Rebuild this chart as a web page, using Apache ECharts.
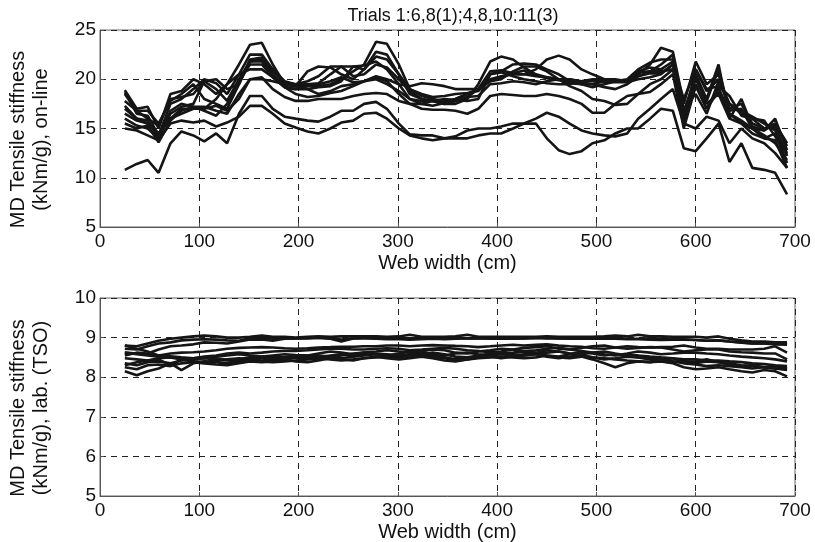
<!DOCTYPE html>
<html>
<head>
<meta charset="utf-8">
<script src="https://cdn.jsdelivr.net/npm/echarts@6/dist/echarts.min.js"></script>
<style>
  html, body { margin: 0; padding: 0; background: #fff; }
  #chart { width: 815px; height: 542px; }
</style>
</head>
<body>
<div id="chart"></div>
<script>
// web width positions (cm) of the measurement points
var webWidth = [25,37,48,59,71,82,94,105,117,128,140,151,163,174,186,197,209,220,232,243,255,266,278,289,301,312,324,335,347,358,370,381,393,404,416,427,439,450,462,473,485,496,508,519,531,542,554,565,577,588,600,611,623,634,646,657,669,680,692];

var xTicks = [0,100,200,300,400,500,600,700];
var topTicks = [5,10,15,20,25];
var bottomTicks = [5,6,7,8,9,10];

// on-line stiffness profiles, one per trial
var onlineT1 = [10.8,11.4,11.8,10.5,13.5,14.7,14.3,13.7,14.5,13.5,16.5,18.3,18.3,17.0,16.2,16.0,15.8,15.7,16.2,16.8,16.8,17.5,17.7,17.0,15.5,14.4,14.3,14.3,14.0,14.0,14.0,14.3,14.5,14.5,15.0,15.5,15.5,14.0,12.8,12.4,12.7,13.5,13.8,14.5,15.0,15.0,16.0,17.0,16.8,13.0,12.7,14.0,15.5,11.6,13.5,11.0,10.8,10.5,8.3];
var onlineT2 = [15.0,14.8,14.3,13.8,15.5,15.8,15.6,15.8,15.2,15.6,16.2,17.3,17.3,16.5,15.5,15.1,14.7,14.5,15.0,15.6,15.8,16.5,16.6,16.0,15.0,14.3,14.0,13.8,14.0,14.2,14.8,15.0,15.0,15.2,15.5,15.5,16.0,16.6,16.2,15.5,14.8,14.5,14.3,14.2,14.5,16.0,17.0,18.0,19.0,15.5,15.0,16.2,15.8,13.5,15.0,14.0,13.5,12.5,11.0];
var onlineT3 = [18.5,16.8,16.0,15.3,18.0,18.2,18.5,19.8,20.0,19.0,19.5,21.8,22.0,20.8,19.6,19.5,19.8,20.3,21.3,21.3,20.3,20.5,21.5,21.2,20.0,18.8,18.0,17.8,17.6,17.8,18.2,19.0,20.5,20.8,21.5,21.6,21.5,21.0,20.5,19.8,19.5,19.2,19.5,19.8,20.0,21.0,21.7,22.0,22.0,15.8,21.0,19.0,19.3,18.3,16.3,16.0,15.8,14.2,12.3];
var onlineT4 = [18.9,17.0,17.2,15.0,18.5,18.8,20.0,19.5,18.5,19.5,21.5,23.5,23.7,21.5,19.5,19.3,19.4,19.3,19.5,20.0,20.8,21.5,23.8,23.6,21.5,19.0,18.3,18.0,17.8,18.0,18.5,19.0,20.8,20.9,20.6,20.5,20.3,20.2,20.0,20.0,19.8,19.9,19.9,19.8,19.8,20.5,21.5,23.2,22.8,17.5,21.8,19.5,20.5,17.0,17.5,15.5,15.0,15.5,13.2];
var onlineT5 = [18.7,16.5,16.3,14.3,17.5,18.0,19.0,20.0,19.6,18.5,20.5,22.5,22.5,21.0,19.5,19.3,20.8,21.3,21.2,20.5,20.0,21.0,22.8,22.5,20.5,18.5,18.0,17.8,17.5,17.5,18.0,19.5,21.8,22.3,22.0,21.2,20.5,20.2,20.0,19.6,19.5,19.5,19.8,19.8,19.9,20.3,20.8,21.5,22.5,15.5,19.5,17.0,19.2,16.5,15.5,15.0,14.0,14.5,11.5];
var onlineT6 = [17.8,16.8,16.8,15.5,17.8,18.5,19.5,18.0,17.5,17.0,19.5,22.0,22.2,21.0,19.8,19.5,19.5,19.6,20.5,21.3,21.3,21.0,22.3,22.0,20.5,19.0,18.5,18.2,18.3,18.5,18.6,18.8,20.0,20.3,20.5,20.5,21.0,22.0,22.4,22.0,21.0,20.5,20.0,19.8,19.9,20.8,21.2,21.0,21.8,16.5,20.5,18.0,21.5,16.0,18.0,15.2,14.8,16.0,12.8];
var onlineT7 = [17.0,16.0,15.8,14.0,16.5,17.2,17.5,19.8,19.0,17.8,20.0,21.8,21.8,20.5,19.2,19.0,19.0,19.2,19.3,19.8,21.3,21.4,21.8,21.0,19.5,18.0,17.5,17.3,17.6,18.0,18.5,19.0,19.8,20.0,20.8,21.3,21.3,20.8,20.0,19.3,18.8,18.0,17.8,17.4,17.5,18.5,19.5,20.0,21.0,17.0,18.5,16.5,19.8,17.5,16.5,16.0,15.0,15.2,12.2];
var onlineT8 = [16.5,15.8,15.5,14.5,16.0,17.0,17.0,17.0,18.0,19.5,20.5,21.0,21.0,20.2,19.2,19.0,19.3,19.5,19.8,20.2,19.7,19.8,20.3,20.0,19.5,19.3,19.6,19.5,19.3,19.0,19.0,19.0,19.8,20.2,20.6,20.9,20.4,20.1,19.9,19.8,19.8,19.8,19.7,19.7,19.7,20.0,20.2,20.5,21.5,18.0,21.0,18.8,20.0,17.5,16.8,16.2,15.5,14.8,12.5];
var onlineT9 = [16.0,15.3,15.0,14.0,16.8,17.5,17.2,17.2,16.8,16.5,18.5,20.0,20.0,19.8,19.5,19.3,19.0,18.5,18.8,19.3,19.5,19.8,20.0,19.5,18.8,18.0,17.8,17.8,17.5,17.8,18.2,18.3,19.5,19.6,19.8,19.7,19.5,19.8,20.0,20.0,19.7,19.5,19.2,19.0,19.5,20.3,20.6,20.6,21.5,16.0,20.2,17.5,18.5,16.0,15.5,14.5,14.0,13.8,11.0];
var onlineT10 = [17.3,16.0,15.5,14.5,16.0,16.5,17.0,17.0,17.3,16.8,18.0,20.0,20.2,19.0,18.2,17.8,17.8,18.0,18.0,18.0,18.3,18.5,18.6,18.5,17.8,17.5,17.0,16.9,16.9,16.8,16.5,17.0,18.3,18.5,18.4,18.3,18.3,18.5,18.3,18.0,17.5,16.6,16.6,17.5,18.3,18.5,18.7,19.5,20.5,15.0,19.3,17.0,18.8,16.5,15.8,15.0,14.3,13.5,11.8];
var onlineT11 = [15.5,15.0,15.3,13.6,15.8,16.8,17.2,16.8,16.3,17.5,19.8,21.5,21.5,20.2,19.2,18.5,18.2,18.3,18.6,18.8,19.3,19.8,20.2,19.8,18.5,17.5,17.5,17.8,18.0,17.9,17.8,18.0,20.5,20.7,20.3,20.0,19.8,19.6,19.5,19.5,19.8,20.0,20.0,20.0,19.8,20.7,20.8,20.8,21.0,16.8,20.0,17.8,21.0,16.8,17.0,15.0,14.8,15.5,13.5];

// laboratory (TSO) stiffness profiles, one per trial
var labT1 = [8.80,8.78,8.85,8.92,8.97,9.00,9.03,9.05,9.03,9.00,9.00,9.02,9.05,9.02,9.02,9.00,9.02,9.03,9.02,9.03,9.03,9.03,9.03,9.02,9.03,9.07,9.02,9.02,9.02,9.03,9.07,9.02,9.02,9.02,9.02,9.02,9.02,9.03,9.02,9.02,9.02,9.02,9.03,9.05,9.03,9.07,9.03,9.03,9.02,9.02,9.02,9.00,9.03,8.97,8.93,8.90,8.90,8.88,8.88];
var labT2 = [8.72,8.70,8.78,8.85,8.88,8.93,8.95,8.96,8.95,8.93,8.92,8.98,9.00,8.97,8.98,8.98,8.98,9.00,8.97,8.90,8.98,9.00,9.00,9.00,8.99,8.98,8.98,8.99,8.98,9.00,8.98,8.98,8.99,9.00,8.98,8.98,8.99,9.00,8.98,8.97,8.97,8.97,8.98,8.97,8.96,8.96,8.95,8.94,8.95,8.95,8.94,8.92,8.93,8.90,8.87,8.85,8.85,8.83,8.82];
var labT3 = [8.55,8.62,8.60,8.70,8.78,8.80,8.83,8.88,8.87,8.85,8.90,8.95,8.95,8.92,8.97,8.98,8.99,9.00,8.98,8.95,8.98,8.98,8.97,8.96,8.96,8.95,8.96,8.97,8.96,8.97,8.98,8.98,8.97,8.98,8.97,8.98,8.99,8.98,8.98,8.98,8.99,8.98,8.97,8.98,8.97,8.97,8.98,8.97,8.96,8.96,8.94,8.92,8.93,8.90,8.88,8.85,8.86,8.85,8.85];
var labT4 = [8.62,8.60,8.58,8.55,8.60,8.62,8.63,8.65,8.68,8.72,8.74,8.75,8.76,8.75,8.73,8.72,8.73,8.75,8.76,8.77,8.77,8.78,8.78,8.80,8.80,8.78,8.80,8.81,8.80,8.79,8.78,8.76,8.78,8.80,8.82,8.80,8.82,8.83,8.80,8.78,8.77,8.73,8.72,8.75,8.78,8.76,8.75,8.76,8.77,8.80,8.75,8.72,8.72,8.70,8.70,8.70,8.72,8.78,8.62];
var labT5 = [8.80,8.72,8.65,8.55,8.53,8.50,8.48,8.52,8.55,8.60,8.62,8.60,8.62,8.65,8.66,8.66,8.68,8.70,8.72,8.72,8.70,8.70,8.72,8.73,8.72,8.68,8.70,8.72,8.74,8.72,8.68,8.66,8.63,8.65,8.70,8.74,8.76,8.78,8.72,8.70,8.74,8.78,8.80,8.75,8.72,8.74,8.76,8.75,8.70,8.65,8.68,8.70,8.70,8.65,8.63,8.62,8.60,8.60,8.45];
var labT6 = [8.48,8.45,8.42,8.48,8.50,8.45,8.48,8.50,8.47,8.44,8.45,8.50,8.52,8.48,8.50,8.55,8.52,8.50,8.55,8.58,8.55,8.56,8.60,8.58,8.55,8.58,8.65,8.58,8.55,8.60,8.62,8.58,8.55,8.60,8.62,8.65,8.62,8.68,8.65,8.60,8.58,8.62,8.65,8.60,8.55,8.55,8.52,8.50,8.48,8.45,8.45,8.42,8.42,8.40,8.38,8.35,8.33,8.30,8.28];
var labT7 = [8.35,8.30,8.38,8.40,8.35,8.42,8.45,8.48,8.45,8.42,8.40,8.45,8.48,8.52,8.50,8.48,8.50,8.55,8.52,8.48,8.52,8.55,8.58,8.55,8.52,8.55,8.58,8.62,8.58,8.52,8.50,8.55,8.60,8.62,8.58,8.55,8.58,8.62,8.65,8.60,8.55,8.50,8.45,8.48,8.52,8.50,8.48,8.45,8.40,8.35,8.32,8.28,8.30,8.28,8.25,8.22,8.25,8.22,8.20];
var labT8 = [8.30,8.38,8.42,8.45,8.30,8.45,8.40,8.38,8.42,8.45,8.48,8.45,8.42,8.45,8.50,8.52,8.48,8.45,8.50,8.55,8.60,8.62,8.58,8.55,8.60,8.65,8.60,8.55,8.50,8.45,8.48,8.52,8.55,8.58,8.55,8.58,8.60,8.55,8.52,8.58,8.65,8.60,8.55,8.58,8.55,8.50,8.45,8.40,8.38,8.42,8.35,8.40,8.38,8.32,8.28,8.30,8.25,8.22,8.18];
var labT9 = [8.15,8.05,8.15,8.22,8.35,8.18,8.35,8.40,8.38,8.35,8.38,8.42,8.40,8.38,8.40,8.42,8.45,8.48,8.45,8.42,8.45,8.48,8.50,8.52,8.48,8.50,8.55,8.52,8.48,8.42,8.45,8.48,8.50,8.52,8.50,8.48,8.50,8.55,8.50,8.48,8.52,8.45,8.35,8.25,8.35,8.40,8.38,8.40,8.35,8.25,8.20,8.22,8.25,8.20,8.15,8.12,8.18,8.15,8.02];
var labT10 = [8.25,8.20,8.30,8.32,8.28,8.35,8.38,8.35,8.32,8.30,8.35,8.40,8.38,8.40,8.45,8.40,8.38,8.42,8.48,8.45,8.42,8.48,8.52,8.48,8.45,8.48,8.52,8.48,8.42,8.40,8.45,8.50,8.52,8.48,8.52,8.55,8.58,8.52,8.48,8.52,8.55,8.50,8.48,8.45,8.42,8.40,8.38,8.42,8.48,8.38,8.40,8.45,8.38,8.35,8.30,8.28,8.25,8.28,8.22];
var labT11 = [8.62,8.58,8.55,8.52,8.50,8.48,8.45,8.48,8.52,8.55,8.58,8.55,8.52,8.55,8.58,8.56,8.55,8.60,8.65,8.62,8.58,8.62,8.65,8.68,8.65,8.62,8.66,8.70,8.68,8.62,8.60,8.65,8.68,8.72,8.70,8.66,8.68,8.72,8.75,8.70,8.66,8.62,8.58,8.55,8.60,8.65,8.62,8.58,8.60,8.62,8.62,8.60,8.58,8.55,8.52,8.50,8.48,8.45,8.40];

var onlineSet = [onlineT1, onlineT2, onlineT3, onlineT4, onlineT5, onlineT6, onlineT7, onlineT8, onlineT9, onlineT10, onlineT11];
var labSet = [labT1, labT2, labT3, labT4, labT5, labT6, labT7, labT8, labT9, labT10, labT11];

var FONT = 'Liberation Sans, Arial, sans-serif';

function pairs(vals) {
  return vals.map(function (v, i) { return [webWidth[i], v]; });
}

function makeX(idx) {
  return {
    type: 'value', gridIndex: idx, min: xTicks[0], max: xTicks[xTicks.length - 1], interval: 100,
    name: 'Web width (cm)', nameLocation: 'middle', nameGap: 26,
    nameTextStyle: { color: '#111', fontSize: 20, fontFamily: FONT },
    axisLine: { show: true, onZero: false, lineStyle: { color: '#555', width: 1 } },
    axisTick: { show: true, inside: true, length: 4, lineStyle: { color: '#555' } },
    axisLabel: { color: '#111', fontSize: 19, fontFamily: FONT, margin: 5 },
    splitLine: { show: true, lineStyle: { color: '#222', type: [6, 5], width: 1 } }
  };
}

function makeY(idx, min, max, interval, name) {
  return {
    type: 'value', gridIndex: idx, min: min, max: max, interval: interval,
    name: name, nameLocation: 'middle', nameGap: 47, nameRotate: 90,
    // right padding pushes the rotated label a little downwards, as in the original
    nameTextStyle: { color: '#111', fontSize: 20, fontFamily: FONT, lineHeight: 23, align: 'center', padding: [0, 22, 0, 0] },
    axisLine: { show: true, lineStyle: { color: '#555', width: 1 } },
    axisTick: { show: true, inside: true, length: 4, lineStyle: { color: '#555' } },
    axisLabel: { color: '#111', fontSize: 19, fontFamily: FONT, margin: 4 },
    splitLine: { show: true, lineStyle: { color: '#222', type: [6, 5], width: 1 } }
  };
}

var series = [];
onlineSet.forEach(function (vals) {
  series.push({
    type: 'line', xAxisIndex: 0, yAxisIndex: 0, data: pairs(vals),
    showSymbol: false, silent: true, animation: false,
    lineStyle: { color: '#151515', width: 2.6 }
  });
});
labSet.forEach(function (vals) {
  series.push({
    type: 'line', xAxisIndex: 1, yAxisIndex: 1, data: pairs(vals),
    showSymbol: false, silent: true, animation: false,
    lineStyle: { color: '#151515', width: 2.6 }
  });
});

var chart = echarts.init(document.getElementById('chart'), null, { renderer: 'canvas' });
chart.setOption({
  backgroundColor: '#ffffff',
  animation: false,
  title: {
    text: 'Trials 1:6,8(1);4,8,10:11(3)',
    left: 448, top: 2, textAlign: 'center',
    textStyle: { color: '#111', fontSize: 18, fontWeight: 'normal', fontFamily: FONT }
  },
  grid: [
    { left: 100, top: 30, width: 695, height: 197, show: true, borderColor: '#666', borderWidth: 1, outerBoundsMode: 'none', containLabel: false },
    { left: 100, top: 298, width: 695, height: 198, show: true, borderColor: '#666', borderWidth: 1, outerBoundsMode: 'none', containLabel: false }
  ],
  xAxis: [makeX(0), makeX(1)],
  yAxis: [
    makeY(0, topTicks[0], topTicks[topTicks.length - 1], 5, 'MD Tensile stiffness\n(kNm/g), on-line'),
    makeY(1, bottomTicks[0], bottomTicks[bottomTicks.length - 1], 1, 'MD Tensile stiffness\n(kNm/g), lab. (TSO)')
  ],
  series: series
});
</script>
</body>
</html>
